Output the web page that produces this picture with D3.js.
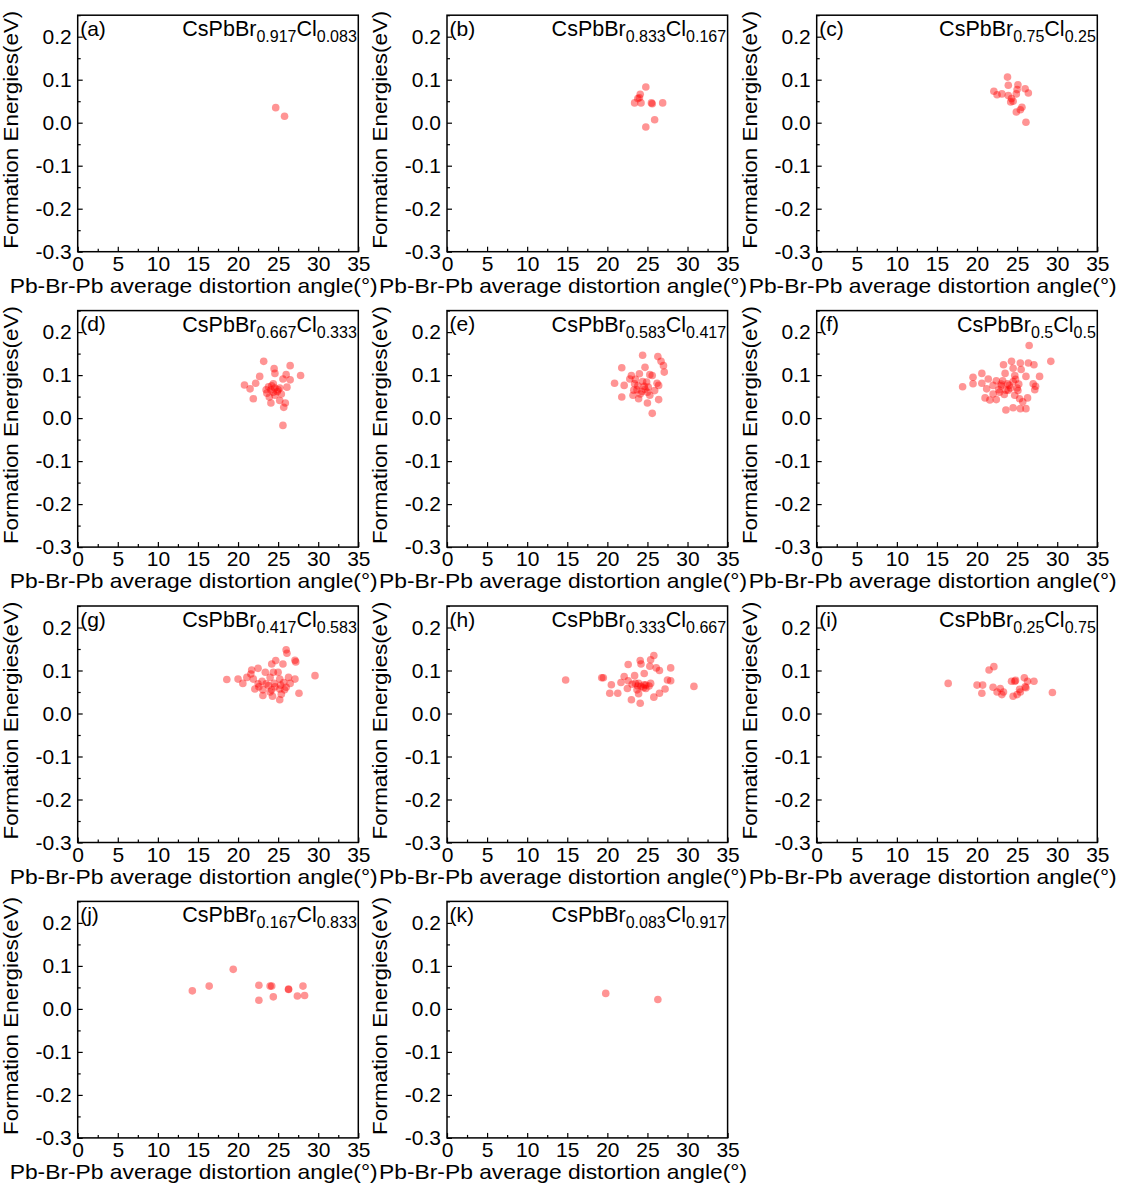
<!DOCTYPE html>
<html>
<head>
<meta charset="utf-8">
<script src="https://cdn.jsdelivr.net/npm/d3@7"></script>
<style>
  body { margin: 0; background: #fff; }
  svg text { font-family: "Liberation Sans", Arial, sans-serif; fill: #000; }
</style>
</head>
<body>
<div id="chart"></div>
<script>
// panel letters and compositions
var panelLetters = ["a", "b", "c", "d", "e", "f", "g", "h", "i", "j", "k"];
var brFractions = ["0.917", "0.833", "0.75", "0.667", "0.583", "0.5", "0.417", "0.333", "0.25", "0.167", "0.083"];
var clFractions = ["0.083", "0.167", "0.25", "0.333", "0.417", "0.5", "0.583", "0.667", "0.75", "0.833", "0.917"];

var xTicks = [0, 5, 10, 15, 20, 25, 30, 35];
var yTicks = [-0.3, -0.2, -0.1, 0.0, 0.1, 0.2];

// [distortion angle (deg), formation energy (eV)]
var panelA = [[24.7, 0.035], [25.8, 0.015]];
var panelB = [[24.8, 0.083], [24.1, 0.066], [23.8, 0.056], [24.0, 0.058], [23.4, 0.046], [24.2, 0.046],
  [25.5, 0.046], [25.6, 0.044], [26.9, 0.046], [25.9, 0.007], [24.8, -0.010]];
var panelC = [[23.8, 0.106], [23.9, 0.087], [25.1, 0.088], [26.0, 0.079], [26.4, 0.069], [22.1, 0.073],
  [22.5, 0.065], [23.1, 0.067], [23.9, 0.063], [24.3, 0.056], [24.9, 0.067], [25.0, 0.077],
  [24.5, 0.050], [24.2, 0.048], [25.6, 0.036], [24.9, 0.025], [26.1, 0.001], [25.4, 0.030]];
var panelD = [[23.2, 0.132], [26.5, 0.122], [27.8, 0.099], [24.5, 0.115], [24.6, 0.104], [22.7, 0.097],
  [26.0, 0.101], [25.6, 0.091], [26.5, 0.089], [20.8, 0.077], [21.5, 0.068], [22.2, 0.081],
  [23.8, 0.073], [24.1, 0.066], [25.0, 0.066], [26.1, 0.072], [25.4, 0.056], [24.6, 0.053],
  [23.9, 0.049], [21.9, 0.045], [24.1, 0.035], [25.9, 0.035], [25.7, 0.025], [25.2, 0.041],
  [25.6, -0.017], [23.5, 0.066], [24.4, 0.080], [23.6, 0.058], [24.2, 0.075], [24.6, 0.070],
  [24.9, 0.062], [24.4, 0.060], [25.2, 0.070]];
var panelE = [[24.4, 0.146], [26.3, 0.143], [26.7, 0.132], [27.0, 0.122], [27.1, 0.107], [24.7, 0.118],
  [21.8, 0.117], [23.0, 0.099], [24.0, 0.103], [25.3, 0.101], [25.6, 0.099], [22.8, 0.091],
  [20.9, 0.081], [22.1, 0.076], [23.4, 0.080], [24.9, 0.084], [26.2, 0.081], [26.4, 0.076],
  [23.7, 0.066], [24.7, 0.067], [25.9, 0.064], [23.2, 0.053], [24.1, 0.056], [25.3, 0.053],
  [26.4, 0.043], [21.8, 0.049], [23.9, 0.045], [25.0, 0.035], [25.6, 0.011], [23.5, 0.090],
  [24.4, 0.085], [23.8, 0.075], [24.6, 0.074], [25.1, 0.072], [23.3, 0.065], [24.3, 0.062],
  [25.0, 0.060]];
var panelF = [[26.5, 0.169], [29.2, 0.132], [23.3, 0.124], [24.3, 0.132], [25.4, 0.128], [26.4, 0.128],
  [27.1, 0.124], [24.5, 0.116], [25.5, 0.113], [20.6, 0.104], [19.5, 0.095], [23.5, 0.104],
  [24.7, 0.099], [26.1, 0.097], [27.8, 0.097], [21.4, 0.091], [22.4, 0.087], [23.2, 0.087],
  [20.6, 0.081], [19.5, 0.080], [22.0, 0.076], [23.0, 0.079], [24.0, 0.076], [25.2, 0.079],
  [27.0, 0.080], [27.3, 0.074], [18.2, 0.073], [21.2, 0.068], [22.7, 0.066], [23.9, 0.065],
  [25.1, 0.064], [27.2, 0.066], [22.0, 0.056], [23.4, 0.055], [24.7, 0.053], [21.0, 0.047],
  [22.4, 0.043], [25.3, 0.045], [26.3, 0.047], [21.6, 0.042], [25.7, 0.038], [24.5, 0.024],
  [23.6, 0.019], [25.4, 0.022], [26.1, 0.022], [23.0, 0.075], [23.8, 0.080], [24.5, 0.085],
  [24.2, 0.070], [25.0, 0.070], [23.6, 0.065], [22.8, 0.060], [24.8, 0.090]];
var panelG = [[26.0, 0.148], [27.1, 0.124], [27.2, 0.120], [26.1, 0.140], [24.7, 0.123], [24.2, 0.115],
  [25.6, 0.115], [21.7, 0.101], [22.5, 0.105], [23.4, 0.096], [24.4, 0.096], [25.0, 0.096],
  [21.6, 0.092], [21.1, 0.084], [18.6, 0.079], [20.0, 0.080], [20.6, 0.070], [21.9, 0.080],
  [24.0, 0.084], [25.2, 0.080], [26.3, 0.084], [27.1, 0.080], [29.6, 0.088], [22.5, 0.069],
  [23.5, 0.069], [24.5, 0.070], [25.7, 0.072], [26.5, 0.070], [22.1, 0.057], [23.1, 0.055],
  [24.2, 0.055], [25.2, 0.057], [26.0, 0.061], [27.6, 0.047], [23.1, 0.042], [24.3, 0.040],
  [25.2, 0.032], [25.4, 0.045], [23.0, 0.075], [23.8, 0.065], [24.6, 0.062], [25.3, 0.066],
  [24.0, 0.050], [22.6, 0.062], [25.8, 0.055]];
var panelH = [[14.8, 0.078], [19.3, 0.083], [19.5, 0.083], [30.8, 0.063], [25.8, 0.135], [25.4, 0.125],
  [24.1, 0.123], [24.2, 0.115], [22.6, 0.114], [25.3, 0.110], [26.1, 0.106], [26.5, 0.100],
  [27.9, 0.106], [22.1, 0.086], [23.4, 0.088], [24.6, 0.093], [27.5, 0.078], [27.9, 0.076],
  [20.5, 0.067], [21.7, 0.072], [22.6, 0.076], [23.1, 0.068], [23.8, 0.064], [24.6, 0.067],
  [25.2, 0.064], [22.5, 0.058], [23.7, 0.055], [24.8, 0.058], [27.2, 0.057], [20.3, 0.047],
  [21.3, 0.047], [23.9, 0.046], [26.5, 0.047], [25.8, 0.038], [23.0, 0.032], [24.1, 0.024],
  [23.5, 0.070], [24.2, 0.063], [24.8, 0.066], [24.5, 0.060], [23.9, 0.070], [25.4, 0.070]];
var panelI = [[16.4, 0.070], [21.5, 0.101], [22.1, 0.109], [20.0, 0.066], [20.7, 0.066], [20.6, 0.047],
  [22.0, 0.061], [22.9, 0.058], [22.5, 0.050], [23.3, 0.050], [23.1, 0.044], [24.3, 0.075],
  [24.7, 0.075], [24.8, 0.077], [25.9, 0.083], [26.3, 0.075], [27.1, 0.075], [26.1, 0.060],
  [26.0, 0.062], [25.3, 0.056], [25.4, 0.050], [25.0, 0.044], [24.5, 0.040], [29.4, 0.049]];
var panelJ = [[14.3, 0.042], [16.4, 0.053], [19.4, 0.092], [22.6, 0.055], [22.6, 0.020], [24.0, 0.053],
  [24.2, 0.053], [24.4, 0.028], [26.3, 0.045], [26.3, 0.046], [27.4, 0.030], [28.1, 0.053],
  [28.3, 0.031]];
var panelK = [[19.8, 0.036], [26.3, 0.022]];

var panelData = [panelA, panelB, panelC, panelD, panelE, panelF, panelG, panelH, panelI, panelJ, panelK];

// layout of the 3 x 4 grid
var svgWidth = 1123, svgHeight = 1185;
var colLeft = [77.7, 447, 816.7];
var plotWidth = 280.6;
var rowStep = 295.4;
var firstTop = 15.2, plotHeight = 236.5;

var svg = d3.select("#chart").append("svg")
  .attr("width", svgWidth)
  .attr("height", svgHeight);

var x = d3.scaleLinear().domain([0, 35]).range([0, plotWidth]);
var y = d3.scaleLinear().domain([-0.3, 0.25]).range([plotHeight, 0]);

var minorX = d3.range(0, 35.01, 2.5).filter(function(v) { return v % 5 !== 0; });
var minorY = d3.range(-0.3, 0.2501, 0.05).filter(function(v) { return Math.abs(Math.round(v * 100) % 10) !== 0; });

panelData.forEach(function(points, i) {
  var col = i % 3, row = Math.floor(i / 3);
  var g = svg.append("g")
    .attr("transform", "translate(" + colLeft[col] + "," + (firstTop + row * rowStep) + ")");

  // minor ticks
  g.append("g")
    .attr("transform", "translate(0," + plotHeight + ")")
    .call(d3.axisBottom(x).tickValues(minorX).tickSize(-3).tickFormat(""))
    .call(function(a) { a.select(".domain").remove(); });
  g.append("g")
    .call(d3.axisLeft(y).tickValues(minorY).tickSize(-3).tickFormat(""))
    .call(function(a) { a.select(".domain").remove(); });

  // major ticks + labels
  var xa = g.append("g")
    .attr("transform", "translate(0," + plotHeight + ")")
    .call(d3.axisBottom(x).tickValues(xTicks).tickSize(-5).tickPadding(4).tickFormat(d3.format("d")));
  xa.select(".domain").remove();
  xa.selectAll("text").style("font-size", "21px").attr("dy", "0.72em");

  var ya = g.append("g")
    .call(d3.axisLeft(y).tickValues(yTicks).tickSize(-5).tickPadding(6).tickFormat(d3.format(".1f")));
  ya.select(".domain").remove();
  ya.selectAll("text").style("font-size", "21px").text(function(d) { return d3.format(".1f")(d).replace("−", "-"); });

  g.selectAll(".tick line").attr("stroke", "#000").attr("stroke-width", 1.2);

  // points
  g.selectAll("circle")
    .data(points)
    .enter()
    .append("circle")
    .attr("cx", function(d) { return x(d[0]); })
    .attr("cy", function(d) { return y(d[1]); })
    .attr("r", 3.8)
    .attr("fill", "#ff0000")
    .attr("fill-opacity", 0.42);

  // frame
  g.append("rect")
    .attr("width", plotWidth)
    .attr("height", plotHeight)
    .attr("fill", "none")
    .attr("stroke", "#000")
    .attr("stroke-width", 1.5);

  // panel letter
  g.append("text")
    .attr("x", 2.5)
    .attr("y", 20.5)
    .style("font-size", "21px")
    .text("(" + panelLetters[i] + ")");

  // composition title
  var t = g.append("text")
    .attr("x", plotWidth - 1.5)
    .attr("y", 21)
    .attr("text-anchor", "end")
    .style("font-size", "21.5px");
  t.append("tspan").text("CsPbBr");
  t.append("tspan").attr("dy", 6).style("font-size", "16px").text(brFractions[i]);
  t.append("tspan").attr("dy", -6).text("Cl");
  t.append("tspan").attr("dy", 6).style("font-size", "16px").text(clFractions[i]);

  // axis titles
  g.append("text")
    .attr("x", 116)
    .attr("y", plotHeight + 41)
    .attr("text-anchor", "middle")
    .attr("textLength", 368)
    .attr("lengthAdjust", "spacingAndGlyphs")
    .style("font-size", "21px")
    .text("Pb-Br-Pb average distortion angle(°)");

  g.append("text")
    .attr("transform", "translate(-60," + (y(0.2) + 93) + ") rotate(-90)")
    .attr("text-anchor", "middle")
    .attr("textLength", 238)
    .attr("lengthAdjust", "spacingAndGlyphs")
    .style("font-size", "21px")
    .text("Formation Energies(eV)");
});
</script>
</body>
</html>
